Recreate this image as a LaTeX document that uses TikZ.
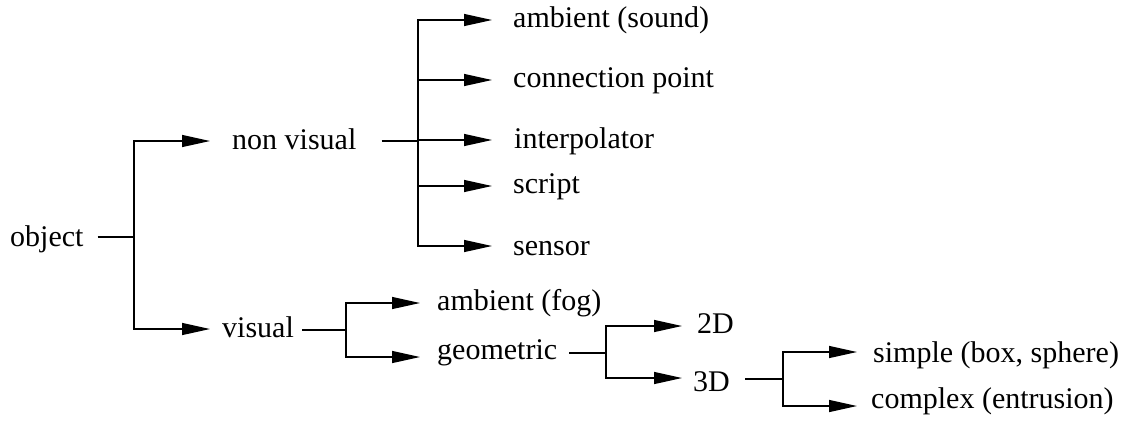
\documentclass[tikz,border=0pt]{standalone}
\usepackage{fontspec}
\setmainfont{Liberation Serif}
\usetikzlibrary{arrows.meta}
\begin{document}
\begin{tikzpicture}[x=1pt,y=-1pt,
  lbl/.style={anchor=base west,inner sep=0pt,font=\fontsize{30}{36}\selectfont},
  wire/.style={line width=1.3pt,draw=black},
  arr/.style={wire,-{Triangle[length=28pt,width=12pt]}}]
\useasboundingbox (0,0) rectangle (1133,421);

% labels
\node[lbl] (object) at (10,246) {object};
\node[lbl] (nonvisual) at (232,149) {non visual};
\node[lbl] (visual) at (222,337) {visual};
\node[lbl] (sound) at (513,27) {ambient (sound)};
\node[lbl] (conn) at (513,87) {connection point};
\node[lbl] (interp) at (514,148) {interpolator};
\node[lbl] (script) at (513,193) {script};
\node[lbl] (sensor) at (513,255) {sensor};
\node[lbl] (fog) at (437,310) {ambient (fog)};
\node[lbl] (geom) at (437,359) {geometric};
\node[lbl] (twoD) at (697,333) {2D};
\node[lbl] (threeD) at (693,391) {3D};
\node[lbl] (simple) at (873,362) {simple (box, sphere)};
\node[lbl] (complex) at (871,408) {complex (entrusion)};

% branch points
\coordinate (j0) at (134,237);
\coordinate (j1) at (418,141);
\coordinate (j2) at (346,330);
\coordinate (j3) at (606,353);
\coordinate (j4) at (783,379);

% object
\draw[wire] ([shift={(14pt,9pt)}]object.base east) -- (j0);
\draw[arr] (j0) |- ([shift={(-22pt,8pt)}]nonvisual.base west);
\draw[arr] (j0) |- ([shift={(-12pt,8pt)}]visual.base west);

% non visual
\draw[wire] ([shift={(25pt,8pt)}]nonvisual.base east) -- (j1);
\draw[arr] (j1) |- ([shift={(-21pt,7pt)}]sound.base west);
\draw[arr] (j1) |- ([shift={(-21pt,7pt)}]conn.base west);
\draw[arr] (j1) |- ([shift={(-22pt,8pt)}]interp.base west);
\draw[arr] (j1) |- ([shift={(-21pt,7pt)}]script.base west);
\draw[arr] (j1) |- ([shift={(-21pt,9pt)}]sensor.base west);

% visual
\draw[wire] ([shift={(8pt,7pt)}]visual.base east) -- (j2);
\draw[arr] (j2) |- ([shift={(-17pt,7pt)}]fog.base west);
\draw[arr] (j2) |- ([shift={(-17pt,2pt)}]geom.base west);

% geometric
\draw[wire] ([shift={(12pt,6pt)}]geom.base east) -- (j3);
\draw[arr] (j3) |- ([shift={(-15pt,7pt)}]twoD.base west);
\draw[arr] (j3) |- ([shift={(-11pt,13pt)}]threeD.base west);

% 3D
\draw[wire] ([shift={(15pt,12pt)}]threeD.base east) -- (j4);
\draw[arr] (j4) |- ([shift={(-16pt,10pt)}]simple.base west);
\draw[arr] (j4) |- ([shift={(-14pt,2pt)}]complex.base west);
\end{tikzpicture}
\end{document}
